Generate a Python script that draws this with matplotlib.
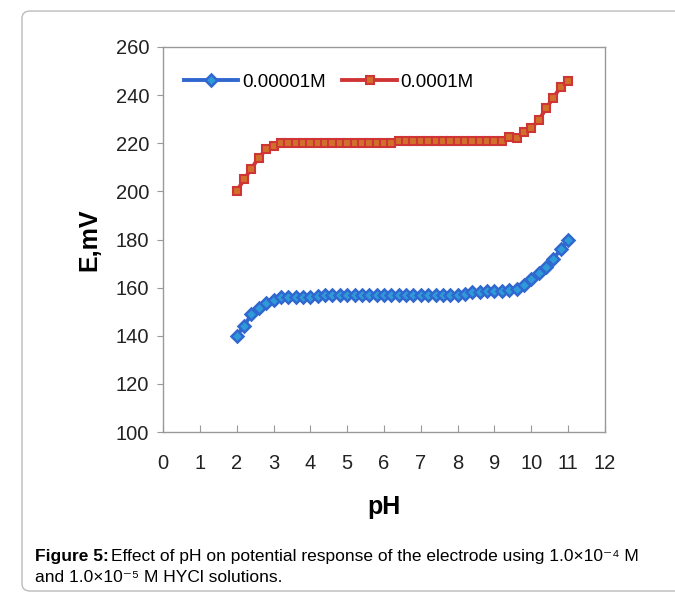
import matplotlib
matplotlib.use('Agg')
import matplotlib.pyplot as plt
from matplotlib.patches import FancyBboxPatch

plt.rcParams['font.family'] = ['Liberation Sans', 'DejaVu Sans']

# pH values (step 0.2)
ph = [2.0, 2.2, 2.4, 2.6, 2.8, 3.0, 3.2, 3.4, 3.6, 3.8, 4.0, 4.2, 4.4, 4.6, 4.8,
      5.0, 5.2, 5.4, 5.6, 5.8, 6.0, 6.2, 6.4, 6.6, 6.8, 7.0, 7.2, 7.4, 7.6, 7.8,
      8.0, 8.2, 8.4, 8.6, 8.8, 9.0, 9.2, 9.4, 9.6, 9.8, 10.0, 10.2, 10.4, 10.6,
      10.8, 11.0]

# E (mV) for 0.00001 M
e_low = [140, 144, 149, 151.5, 153.5, 155, 156,
         156, 156, 156, 156, 156.5,
         157, 157, 157, 157, 157, 157, 157, 157, 157, 157, 157, 157, 157, 157,
         157, 157, 157, 157, 157,
         157.5, 158, 158, 158.5, 158.5, 158.5,
         159, 159.5, 161, 163.5, 166, 168.5, 172, 176, 180]

# E (mV) for 0.0001 M
e_high = [200, 205, 209.5, 214, 217.5, 219, 220,
          220, 220, 220, 220, 220, 220, 220, 220, 220, 220, 220, 220, 220, 220, 220,
          221, 221, 221, 221, 221, 221, 221, 221, 221, 221, 221, 221, 221, 221, 221,
          222.5, 222, 224.5, 226.5, 229.5, 234.5, 239, 243.5, 246]

labels = ['0.00001M', '0.0001M']
x_ticks = list(range(0, 13))
y_ticks = list(range(100, 261, 20))

fig = plt.figure(figsize=(6.75, 6.01), dpi=100)

# rounded frame around figure + caption
frame = FancyBboxPatch((22 / 675, 10 / 601), 0.99, 0.965,
                       boxstyle='round,pad=0,rounding_size=0.012',
                       transform=fig.transFigure, facecolor='none',
                       edgecolor='#BBBBBB', linewidth=1.0, clip_on=False)
fig.patches.append(frame)

ax = fig.add_axes([163 / 675, 1 - 432 / 601, 442 / 675, 385 / 601])

ax.plot(ph, e_low, color='#3068D0', linewidth=2.8, marker='D', markersize=6.5,
        markerfacecolor='#2E9BD8', markeredgecolor='#3068D0', markeredgewidth=1.8,
        label=labels[0])
ax.plot(ph, e_high, color='#D03535', linewidth=2.8, marker='s', markersize=6,
        markerfacecolor='#D0702A', markeredgecolor='#D03535', markeredgewidth=1.5,
        label=labels[1])

ax.set_xlim(0, 12)
ax.set_ylim(100, 260)
ax.set_xticks(x_ticks)
ax.set_yticks(y_ticks)
ax.tick_params(axis='x', direction='in', length=5, pad=16, labelsize=14.5,
               color='#999999', labelcolor='#222222')
ax.tick_params(axis='y', direction='out', length=4, pad=6, labelsize=14.5,
               color='#999999', labelcolor='#222222')
for s in ax.spines.values():
    s.set_color('#999999')
    s.set_linewidth(1.0)

ax.set_xlabel('pH', fontsize=18, fontweight='bold', labelpad=16)
ax.set_ylabel('E,mV', fontsize=18, fontweight='bold', labelpad=10)

ax.legend(loc='center left', bbox_to_anchor=(0.03, 0.908), ncol=2, frameon=False,
          fontsize=13.5, handlelength=2.9, handletextpad=0.2, columnspacing=0.9,
          borderaxespad=0)

# caption
fig.canvas.draw()
r = fig.canvas.get_renderer()
t1 = fig.text(35 / 675, 1 - 556 / 601, 'Figure 5:', fontsize=12.5, fontweight='bold',
              va='center', ha='left')
bb = t1.get_window_extent(renderer=r)
fig.text(bb.x1 / 675 + 0.004, 1 - 556 / 601,
         'Effect of pH on potential response of the electrode using 1.0\u00d710\u207b\u2074 M',
         fontsize=12.5, va='center', ha='left')
fig.text(35 / 675, 1 - 578 / 601, 'and 1.0\u00d710\u207b\u2075 M HYCl solutions.',
         fontsize=12.5, va='center', ha='left')

fig.savefig('out.png', dpi=100)
